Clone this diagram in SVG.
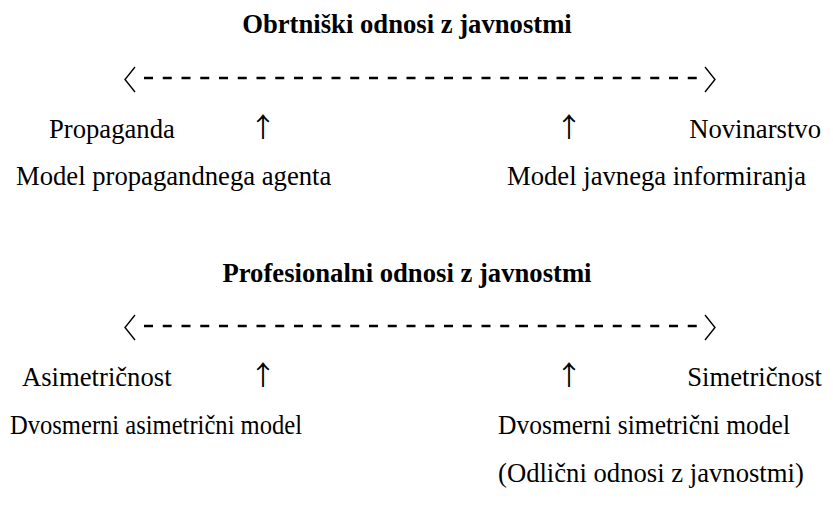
<svg xmlns="http://www.w3.org/2000/svg" width="833" height="529" viewBox="0 0 833 529">
<style>
text{font-family:"Liberation Serif","Times New Roman",serif;font-size:26.67px;fill:#000}
.title{font-weight:bold}
.arr{font-family:"Noto Sans CJK JP","Noto Sans CJK SC",sans-serif;font-size:27px}
.dash{stroke:#000;stroke-width:2.6;stroke-dasharray:9 9.75;fill:none}
.br{stroke:#000;stroke-width:1.4;fill:none;stroke-linejoin:miter}
</style>
<rect width="833" height="529" fill="#fff"/>
<g id="title-obrtniski"><text class="title" x="407" y="33" text-anchor="middle">Obrtniški odnosi z javnostmi</text></g>
<g id="connectors">
<g id="continuum-1">
<line class="dash" x1="144" y1="78" x2="697" y2="78"/>
<polyline class="br" points="135,67 125,79.5 135,92"/>
<polyline class="br" points="705,67 715,79.5 705,92"/>
</g>
<g id="continuum-2">
<line class="dash" x1="144" y1="326" x2="697" y2="326"/>
<polyline class="br" points="135,315 125,327.5 135,340"/>
<polyline class="br" points="705,315 715,327.5 705,340"/>
</g>
<g id="arrows">
<text class="arr" x="263" y="137" text-anchor="middle">↑</text>
<text class="arr" x="569" y="137" text-anchor="middle">↑</text>
<text class="arr" x="263" y="385" text-anchor="middle">↑</text>
<text class="arr" x="569" y="385" text-anchor="middle">↑</text>
</g>
</g>
<g id="propaganda"><text x="49" y="138">Propaganda</text></g>
<g id="novinarstvo"><text x="821" y="138" text-anchor="end">Novinarstvo</text></g>
<g id="model-propagandnega"><text x="16" y="185">Model propagandnega agenta</text></g>
<g id="model-javnega"><text x="507" y="185">Model javnega informiranja</text></g>
<g id="title-profesionalni"><text class="title" x="407" y="282" text-anchor="middle">Profesionalni odnosi z javnostmi</text></g>
<g id="asimetricnost"><text x="22" y="386">Asimetričnost</text></g>
<g id="simetricnost"><text x="822" y="386" text-anchor="end">Simetričnost</text></g>
<g id="dvosmerni-asimetricni"><text x="10" y="434" textLength="292" lengthAdjust="spacingAndGlyphs">Dvosmerni asimetrični model</text></g>
<g id="dvosmerni-simetricni"><text x="498" y="434" textLength="292" lengthAdjust="spacingAndGlyphs">Dvosmerni simetrični model</text><text x="498" y="482">(Odlični odnosi z javnostmi)</text></g>
</svg>
